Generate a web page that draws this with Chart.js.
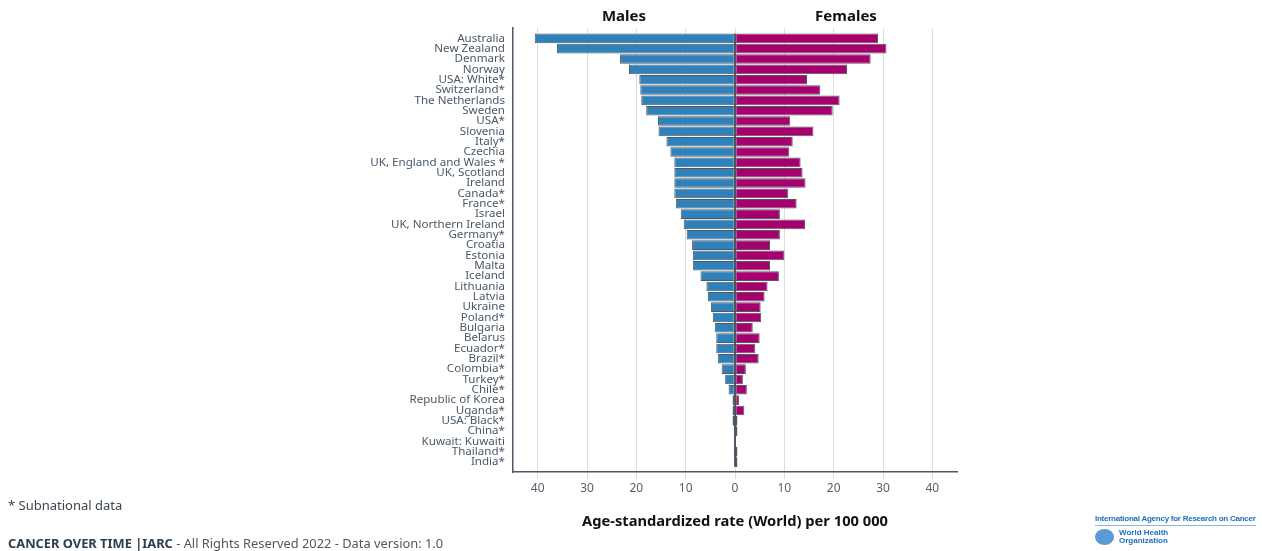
<!DOCTYPE html>
<html lang="en">
<head>
  <meta charset="UTF-8">
  <title>Cancer over time</title>
  <script src="https://cdn.jsdelivr.net/npm/chart.js"></script>
  <style>
    body { margin: 0; background: #fff; font-family: "Noto Sans", sans-serif; }
    #wrap { position: relative; width: 1262px; height: 551px; }
    #chart { position: absolute; left: 0; top: 0; }
    .note { position: absolute; left: 8px; top: 496px; font-size: 13px; color: #3c4650; }
    .credit { position: absolute; left: 8px; top: 534px; font-size: 12.85px; color: #555; }
    .credit b { color: #2c3e50; }
    .logo { position: absolute; left: 1095px; top: 514px; width: 161px; color: #1f6fc0;
            font-family: "Liberation Sans", Arial, sans-serif; font-weight: bold; }
    .logo .iarc { font-size: 8px; letter-spacing: -0.25px; border-bottom: 1px solid #8cb7e3; padding-bottom: 2px; white-space: nowrap; }
    .logo .who { margin-top: 3px; display: flex; align-items: center; font-size: 8px; line-height: 8px; }
    .logo .emblem { width: 19px; height: 16px; border-radius: 50%; background: #5b9bd5; margin-right: 5px; }
  </style>
</head>
<body>
<div id="wrap">
  <canvas id="chart" width="1262" height="551"></canvas>
  <div class="note">* Subnational data</div>
  <div class="credit"><b>CANCER OVER TIME |IARC</b> - All Rights Reserved 2022 - Data version: 1.0</div>
  <div class="logo">
    <div class="iarc">International Agency for Research on Cancer</div>
    <div class="who"><div class="emblem"></div><div>World Health<br>Organization</div></div>
  </div>
</div>

<script>
  const countries = [
    'Australia', 'New Zealand', 'Denmark', 'Norway', 'USA: White*', 'Switzerland*',
    'The Netherlands', 'Sweden', 'USA*', 'Slovenia', 'Italy*', 'Czechia',
    'UK, England and Wales *', 'UK, Scotland', 'Ireland', 'Canada*', 'France*', 'Israel',
    'UK, Northern Ireland', 'Germany*', 'Croatia', 'Estonia', 'Malta', 'Iceland',
    'Lithuania', 'Latvia', 'Ukraine', 'Poland*', 'Bulgaria', 'Belarus', 'Ecuador*',
    'Brazil*', 'Colombia*', 'Turkey*', 'Chile*', 'Republic of Korea', 'Uganda*',
    'USA: Black*', 'China*', 'Kuwait: Kuwaiti', 'Thailand*', 'India*'
  ];

  // age-standardized rate per 100 000
  const males = [
    40.6, 36.1, 23.3, 21.5, 19.4, 19.2, 19.0, 18.0, 15.6, 15.5, 13.9, 13.1,
    12.3, 12.3, 12.3, 12.3, 12.0, 11.0, 10.4, 9.8, 8.7, 8.5, 8.5, 7.0,
    5.8, 5.5, 4.9, 4.5, 4.1, 3.8, 3.8, 3.5, 2.7, 2.0, 1.3, 0.5, 0.5,
    0.5, 0.2, 0.2, 0.2, 0.1
  ];
  const females = [
    29.0, 30.7, 27.5, 22.7, 14.6, 17.3, 21.2, 19.8, 11.2, 15.9, 11.7, 11.0,
    13.3, 13.7, 14.3, 10.8, 12.5, 9.1, 14.2, 9.1, 7.1, 10.0, 7.1, 8.9,
    6.6, 6.0, 5.2, 5.3, 3.6, 5.0, 4.1, 4.8, 2.2, 1.6, 2.4, 0.8, 1.9,
    0.5, 0.5, 0.1, 0.5, 0.5
  ];
  const xTicks = [-40, -30, -20, -10, 0, 10, 20, 30, 40];

  const slate = '#4a5868';

  // side headings, x title and the dark zero line
  const extras = {
    id: 'extras',
    afterDatasetsDraw(chart) {
      const { ctx, chartArea, scales: { x, y } } = chart;
      ctx.save();
      ctx.strokeStyle = '#22303f';
      ctx.lineWidth = 1.5;
      const x0 = x.getPixelForValue(0);
      ctx.beginPath();
      ctx.moveTo(x0, y.getPixelForValue(-0.45));
      ctx.lineTo(x0, y.getPixelForValue(countries.length - 0.55));
      ctx.stroke();

      ctx.fillStyle = '#111';
      ctx.textAlign = 'center';
      ctx.textBaseline = 'middle';
      ctx.font = 'bold 15px "Noto Sans"';
      ctx.fillText('Males', x.getPixelForValue(-22.5), 17);
      ctx.fillText('Females', x.getPixelForValue(22.5), 17);
      ctx.font = 'bold 14.7px "Noto Sans"';
      ctx.fillText('Age-standardized rate (World) per 100 000', (chartArea.left + chartArea.right) / 2, 522);
      ctx.restore();
    }
  };

  new Chart(document.getElementById('chart'), {
    type: 'bar',
    data: {
      datasets: [{
        label: 'Males',
        data: males.map((v, i) => ({ x: -v, y: i })),
        backgroundColor: '#2f81bb',
        borderColor: '#555a60',
        borderWidth: 1,
        borderSkipped: false
      }, {
        label: 'Females',
        data: females.map((v, i) => ({ x: v, y: i })),
        backgroundColor: '#a6006f',
        borderColor: '#555a60',
        borderWidth: 1,
        borderSkipped: false
      }]
    },
    options: {
      indexAxis: 'y',
      responsive: false,
      animation: false,
      barPercentage: 0.93,
      categoryPercentage: 1,
      layout: { padding: { top: 28, right: 305, left: 0, bottom: 0 } },
      plugins: { legend: { display: false }, tooltip: { enabled: false } },
      scales: {
        x: {
          type: 'linear',
          stacked: true,
          min: -45,
          max: 45,
          afterBuildTicks: s => { s.ticks = xTicks.map(v => ({ value: v })); },
          afterFit: s => { s.height = 79; },
          grid: { color: '#dcdcdc', tickLength: 7 },
          border: { color: slate, width: 1.5 },
          ticks: {
            color: '#56616c',
            font: { family: 'Noto Sans', size: 12 },
            padding: 2,
            callback: v => Math.abs(v)
          }
        },
        y: {
          type: 'linear',
          stacked: true,
          reverse: true,
          offset: false,
          min: -1,
          max: 41.95,
          afterBuildTicks: s => { s.ticks = countries.map((c, i) => ({ value: i })); },
          afterFit: s => { s.width = 513; },
          grid: { display: false, drawTicks: false, offset: false },
          border: { color: slate, width: 1.5 },
          ticks: {
            autoSkip: false,
            color: slate,
            font: { family: 'Noto Sans', size: 11.6 },
            padding: 8,
            callback: v => countries[v]
          }
        }
      }
    },
    plugins: [extras]
  });
</script>
</body>
</html>
